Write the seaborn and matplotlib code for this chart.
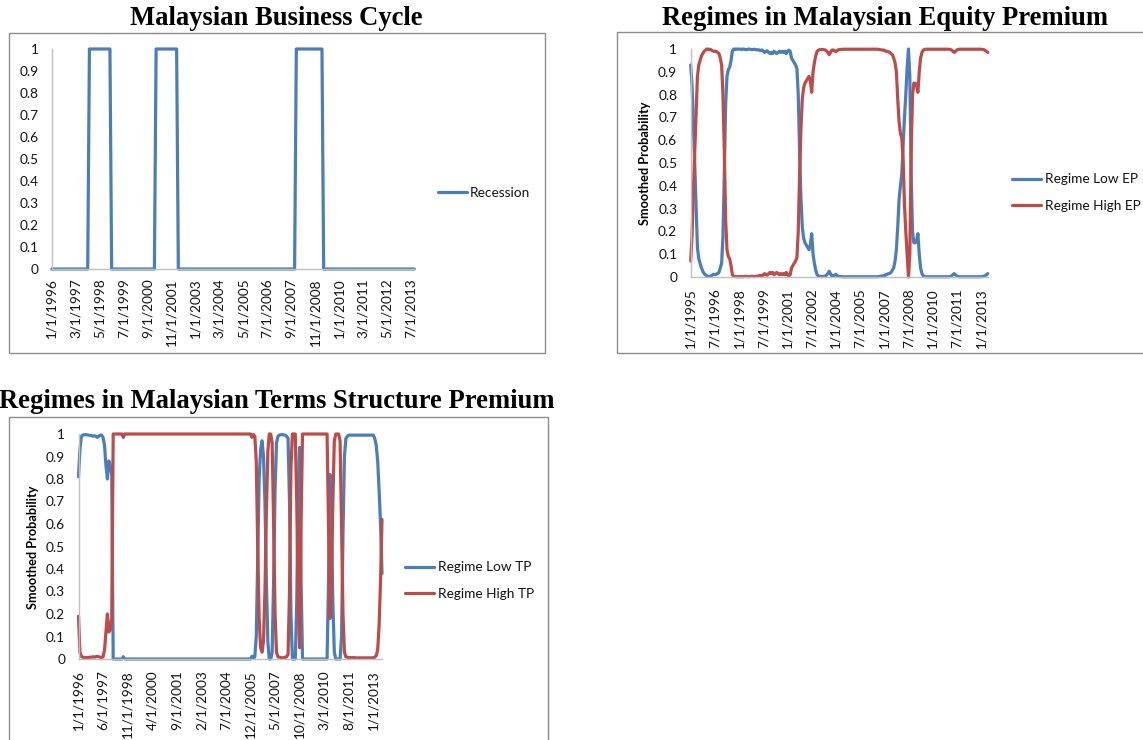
import numpy as np
import pandas as pd
import matplotlib
matplotlib.use("Agg")
import matplotlib.pyplot as plt
import seaborn as sns
from matplotlib.patches import Rectangle
from matplotlib.lines import Line2D

# ---------------- DATA ----------------
# Panel 1: Malaysian business cycle (monthly, Jan 1996 - Sep 2013)
bc_start = "1996-01-01"
bc_n_months = 213
recession_starts = ["1997-11-01", "2001-02-01", "2007-12-01"]
recession_ends = ["1998-11-01", "2002-02-01", "2009-03-01"]
bc_tick_labels = ["1/1/1996", "3/1/1997", "5/1/1998", "7/1/1999", "9/1/2000", "11/1/2001",
                  "1/1/2003", "3/1/2004", "5/1/2005", "7/1/2006", "9/1/2007", "11/1/2008",
                  "1/1/2010", "3/1/2011", "5/1/2012", "7/1/2013"]

# Panel 2: Equity premium regimes (monthly, Jan 1995 - Jun 2013)
ep_start = "1995-01-01"
ep_low = [
    0.93, 0.84, 0.68, 0.50, 0.32, 0.13, 0.08, 0.06, 0.04, 0.025, 0.015, 0.01,
    0.005, 0.003, 0.002, 0.004, 0.008, 0.012, 0.01, 0.012, 0.015, 0.02, 0.04, 0.06,
    0.18, 0.45, 0.76, 0.88, 0.91, 0.92, 0.95, 0.99, 1.0, 0.998, 1.0, 0.999,
    1.0, 0.999, 0.998, 1.0, 0.999, 0.997, 0.998, 1.0, 0.999, 0.998, 0.997, 0.999,
    0.998, 0.996, 0.997, 0.995, 0.993, 0.996, 0.99, 0.985, 0.99, 0.992, 0.985, 0.98,
    0.985, 0.98, 0.99, 0.985, 0.98, 0.985, 0.99, 0.985, 0.99, 0.985, 0.99, 0.98,
    0.99, 0.995, 0.99, 0.96, 0.95, 0.94, 0.93, 0.915, 0.80, 0.55, 0.35, 0.22,
    0.17, 0.15, 0.14, 0.13, 0.12, 0.14, 0.19, 0.10, 0.06, 0.03, 0.01, 0.005,
    0.003, 0.002, 0.002, 0.003, 0.004, 0.008, 0.015, 0.025, 0.015, 0.005, 0.004, 0.008,
    0.012, 0.006, 0.003, 0.002, 0.002, 0.001, 0.001, 0.001, 0.001, 0.001, 0.001, 0.001,
    0.001, 0.001, 0.001, 0.001, 0.001, 0.001, 0.001, 0.001, 0.001, 0.001, 0.001, 0.001,
    0.001, 0.001, 0.001, 0.001, 0.001, 0.001, 0.001, 0.001, 0.002, 0.003, 0.004, 0.005,
    0.005, 0.01, 0.012, 0.014, 0.016, 0.02, 0.03, 0.04, 0.07, 0.12, 0.22, 0.34,
    0.40, 0.45, 0.58, 0.70, 0.80, 0.92, 1.0, 0.88, 0.45, 0.20, 0.15, 0.15,
    0.16, 0.19, 0.10, 0.04, 0.015, 0.005, 0.002, 0.001, 0.001, 0.001, 0.001, 0.001,
    0.001, 0.001, 0.001, 0.001, 0.001, 0.001, 0.001, 0.001, 0.001, 0.001, 0.001, 0.001,
    0.001, 0.002, 0.004, 0.01, 0.015, 0.01, 0.004, 0.002, 0.001, 0.001, 0.001, 0.001,
    0.001, 0.001, 0.001, 0.001, 0.001, 0.001, 0.001, 0.001, 0.001, 0.001, 0.001, 0.001,
    0.001, 0.002, 0.003, 0.006, 0.01, 0.015,
]
ep_high = [
    0.07, 0.18, 0.38, 0.55, 0.72, 0.88, 0.93, 0.95, 0.97, 0.98, 0.99, 0.995,
    1.0, 0.998, 0.999, 0.997, 0.993, 0.99, 0.99, 0.99, 0.985, 0.98, 0.96, 0.93,
    0.80, 0.55, 0.25, 0.12, 0.09, 0.08, 0.05, 0.01, 0.002, 0.002, 0.001, 0.002,
    0.001, 0.002, 0.002, 0.001, 0.002, 0.003, 0.002, 0.001, 0.002, 0.003, 0.003, 0.002,
    0.002, 0.004, 0.003, 0.006, 0.007, 0.004, 0.01, 0.015, 0.01, 0.008, 0.015, 0.02,
    0.015, 0.02, 0.01, 0.015, 0.02, 0.015, 0.01, 0.015, 0.01, 0.015, 0.01, 0.02,
    0.01, 0.005, 0.01, 0.04, 0.05, 0.06, 0.07, 0.085, 0.20, 0.45, 0.65, 0.78,
    0.83, 0.85, 0.86, 0.87, 0.88, 0.86, 0.81, 0.90, 0.94, 0.97, 0.99, 0.995,
    0.997, 0.998, 0.998, 0.997, 0.996, 0.992, 0.985, 0.975, 0.985, 0.995, 0.996, 0.992,
    0.988, 0.994, 0.997, 0.998, 0.998, 0.999, 0.999, 0.999, 0.999, 0.999, 0.999, 0.999,
    0.999, 0.999, 0.999, 0.999, 0.999, 0.999, 0.999, 0.999, 0.999, 0.999, 0.999, 0.999,
    0.999, 0.999, 0.999, 0.999, 0.999, 0.999, 0.999, 0.999, 0.998, 0.997, 0.996, 0.995,
    0.995, 0.99, 0.99, 0.988, 0.985, 0.98, 0.975, 0.96, 0.94, 0.90, 0.78, 0.68,
    0.63, 0.61, 0.52, 0.32, 0.20, 0.10, 0.0, 0.10, 0.55, 0.80, 0.85, 0.85,
    0.84, 0.81, 0.90, 0.96, 0.985, 0.995, 0.998, 0.999, 0.999, 0.999, 0.999, 0.999,
    0.999, 0.999, 0.999, 0.999, 0.999, 0.999, 0.999, 0.999, 0.999, 0.999, 0.999, 0.999,
    0.999, 0.998, 0.996, 0.99, 0.985, 0.99, 0.996, 0.998, 0.999, 0.999, 0.999, 0.999,
    0.999, 0.999, 0.999, 0.999, 0.999, 0.999, 0.999, 0.999, 0.999, 0.999, 0.999, 0.999,
    0.999, 0.998, 0.997, 0.994, 0.99, 0.985,
]
ep_tick_labels = ["1/1/1995", "7/1/1996", "1/1/1998", "7/1/1999", "1/1/2001", "7/1/2002",
                  "1/1/2004", "7/1/2005", "1/1/2007", "7/1/2008", "1/1/2010", "7/1/2011",
                  "1/1/2013"]

# Panel 3: Term structure premium regimes (monthly, Jan 1996 - Jul 2013)
tp_start = "1996-01-01"
tp_low = [
    0.81, 0.93, 0.99, 0.995, 0.997, 0.997, 0.996, 0.995, 0.994, 0.993, 0.99, 0.992,
    0.99, 0.985, 0.99, 0.995, 0.995, 0.985, 0.95, 0.86, 0.80, 0.88, 0.86, 0.82,
    0.0, 0.0, 0.0, 0.0, 0.0, 0.0, 0.0, 0.01, 0.0, 0.0, 0.0, 0.0,
    0.0, 0.0, 0.0, 0.0, 0.0, 0.0, 0.0, 0.0, 0.0, 0.0, 0.0, 0.0,
    0.0, 0.0, 0.0, 0.0, 0.0, 0.0, 0.0, 0.0, 0.0, 0.0, 0.0, 0.0,
    0.0, 0.0, 0.0, 0.0, 0.0, 0.0, 0.0, 0.0, 0.0, 0.0, 0.0, 0.0,
    0.0, 0.0, 0.0, 0.0, 0.0, 0.0, 0.0, 0.0, 0.0, 0.0, 0.0, 0.0,
    0.0, 0.0, 0.0, 0.0, 0.0, 0.0, 0.0, 0.0, 0.0, 0.0, 0.0, 0.0,
    0.0, 0.0, 0.0, 0.0, 0.0, 0.0, 0.0, 0.0, 0.0, 0.0, 0.0, 0.0,
    0.0, 0.0, 0.0, 0.0, 0.0, 0.0, 0.0, 0.0, 0.0, 0.0, 0.0, 0.0,
    0.012, 0.002, 0.01, 0.10, 0.45, 0.80, 0.93, 0.97, 0.90, 0.70, 0.35, 0.08,
    0.0, 0.0, 0.03, 0.35, 0.75, 0.96, 0.99, 0.995, 0.997, 0.997, 0.996, 0.995,
    0.99, 0.98, 0.70, 0.20, 0.0, 0.0, 0.0, 0.25, 0.75, 0.94, 0.35, 0.0,
    0.0, 0.0, 0.0, 0.0, 0.0, 0.0, 0.0, 0.0, 0.0, 0.0, 0.0, 0.0,
    0.0, 0.0, 0.0, 0.0, 0.0, 0.35, 0.82, 0.60, 0.25, 0.03, 0.0, 0.0,
    0.0, 0.0, 0.10, 0.55, 0.90, 0.98, 0.99, 0.995, 0.995, 0.995, 0.995, 0.995,
    0.995, 0.995, 0.995, 0.995, 0.995, 0.995, 0.995, 0.995, 0.995, 0.995, 0.995, 0.995,
    0.995, 0.98, 0.95, 0.88, 0.75, 0.60, 0.38,
]
tp_high = [
    0.19, 0.03, 0.012, 0.008, 0.007, 0.006, 0.006, 0.007, 0.008, 0.008, 0.01, 0.008,
    0.01, 0.012, 0.01, 0.008, 0.006, 0.01, 0.04, 0.12, 0.20, 0.12, 0.13, 0.18,
    1.0, 1.0, 1.0, 1.0, 1.0, 1.0, 1.0, 0.985, 1.0, 1.0, 1.0, 1.0,
    1.0, 1.0, 1.0, 1.0, 1.0, 1.0, 1.0, 1.0, 1.0, 1.0, 1.0, 1.0,
    1.0, 1.0, 1.0, 1.0, 1.0, 1.0, 1.0, 1.0, 1.0, 1.0, 1.0, 1.0,
    1.0, 1.0, 1.0, 1.0, 1.0, 1.0, 1.0, 1.0, 1.0, 1.0, 1.0, 1.0,
    1.0, 1.0, 1.0, 1.0, 1.0, 1.0, 1.0, 1.0, 1.0, 1.0, 1.0, 1.0,
    1.0, 1.0, 1.0, 1.0, 1.0, 1.0, 1.0, 1.0, 1.0, 1.0, 1.0, 1.0,
    1.0, 1.0, 1.0, 1.0, 1.0, 1.0, 1.0, 1.0, 1.0, 1.0, 1.0, 1.0,
    1.0, 1.0, 1.0, 1.0, 1.0, 1.0, 1.0, 1.0, 1.0, 1.0, 1.0, 1.0,
    0.985, 0.998, 0.99, 0.88, 0.50, 0.18, 0.05, 0.03, 0.08, 0.30, 0.65, 0.92,
    1.0, 1.0, 0.96, 0.60, 0.20, 0.03, 0.01, 0.008, 0.006, 0.005, 0.006, 0.008,
    0.01, 0.02, 0.30, 0.85, 1.0, 1.0, 1.0, 0.70, 0.25, 0.05, 0.60, 1.0,
    1.0, 1.0, 1.0, 1.0, 1.0, 1.0, 1.0, 1.0, 1.0, 1.0, 1.0, 1.0,
    1.0, 1.0, 1.0, 1.0, 1.0, 0.60, 0.18, 0.35, 0.70, 0.97, 1.0, 1.0,
    1.0, 0.97, 0.60, 0.20, 0.03, 0.01, 0.008, 0.006, 0.006, 0.006, 0.006, 0.006,
    0.005, 0.005, 0.005, 0.005, 0.005, 0.005, 0.005, 0.005, 0.005, 0.005, 0.005, 0.005,
    0.006, 0.008, 0.015, 0.04, 0.15, 0.35, 0.62,
]
tp_tick_labels = ["1/1/1996", "6/1/1997", "11/1/1998", "4/1/2000", "9/1/2001", "2/1/2003",
                  "7/1/2004", "12/1/2005", "5/1/2007", "10/1/2008", "3/1/2010", "8/1/2011",
                  "1/1/2013"]

y_tick_labels = ["0", "0.1", "0.2", "0.3", "0.4", "0.5", "0.6", "0.7", "0.8", "0.9", "1"]

# ---------------- STYLE ----------------
sns.set_style("white")
plt.rcParams["font.family"] = ["Lato", "DejaVu Sans"]

BLUE = "#4A7EBB"
RED = "#BE4B48"
AXIS = "#BFBFBF"
FRAME = "#8C8C8C"
TXT = "#000000"
FS = 9.8
TITLE_FS = 19.2

W, H = 1143, 740
fig = plt.figure(figsize=(W / 100, H / 100), dpi=100)
fig.patch.set_facecolor("white")


def fx(px):
    return px / W


def fy(py):
    return 1 - py / H


def axes_px(x0, x1, ytop, ybot):
    return fig.add_axes([fx(x0), fy(ybot), (x1 - x0) / W, (ybot - ytop) / H])


def frame_px(x0, y0, x1, y1):
    fig.patches.append(Rectangle((fx(x0), fy(y1)), (x1 - x0) / W, (y1 - y0) / H,
                                 transform=fig.transFigure, fill=False,
                                 edgecolor=FRAME, linewidth=1.0, clip_on=False))


def style_axes(ax, n, step, labels, xpad):
    ax.set_xlim(0, n - 1)
    ax.set_ylim(0, 1)
    ax.set_yticks(np.linspace(0, 1, len(y_tick_labels)))
    ax.set_yticklabels(y_tick_labels)
    ax.set_xticks(list(range(0, n, step))[:len(labels)])
    ax.set_xticklabels(labels, rotation=90)
    ax.tick_params(axis="both", length=0, labelsize=FS, colors="#111111")
    ax.tick_params(axis="y", pad=9.7)
    ax.tick_params(axis="x", pad=xpad)
    for s in ["top", "right"]:
        ax.spines[s].set_visible(False)
    for s in ["left", "bottom"]:
        ax.spines[s].set_color(AXIS)
        ax.spines[s].set_linewidth(1.0)
    ax.set_xlabel("")
    ax.set_ylabel("")
    ax.set_facecolor("white")
    for ln in ax.lines:
        ln.set_clip_on(False)
        ln.set_solid_joinstyle("round")
        ln.set_solid_capstyle("round")


def make_legend(ax, labels, colors, x_px, y_px):
    handles = [Line2D([0], [0], color=c, lw=2.3) for c in colors]
    leg = ax.legend(handles, labels, loc="center left", bbox_to_anchor=(fx(x_px), fy(y_px)),
                    bbox_transform=fig.transFigure, frameon=False, fontsize=FS,
                    handlelength=2.15, handletextpad=0.25, borderpad=0, borderaxespad=0,
                    labelspacing=1.05)
    for t in leg.get_texts():
        t.set_color("#111111")


# ---------------- PANEL 1 ----------------
bc_dates = pd.date_range(bc_start, periods=bc_n_months, freq="MS")
recession = np.zeros(bc_n_months)
for s, e in zip(recession_starts, recession_ends):
    recession[(bc_dates >= pd.Timestamp(s)) & (bc_dates <= pd.Timestamp(e))] = 1.0
df_bc = pd.DataFrame({"idx": np.arange(bc_n_months), "value": recession})

frame_px(8.9, 32.7, 544.6, 352.7)
ax1 = axes_px(51.8, 414.3, 49, 269)
sns.lineplot(data=df_bc, x="idx", y="value", color=BLUE, linewidth=2.3, ax=ax1)
style_axes(ax1, bc_n_months, 14, bc_tick_labels, 6.5)
make_legend(ax1, ["Recession"], [BLUE], 437.5, 193)
fig.text(fx(276), fy(18.5), "Malaysian Business Cycle", ha="center", va="center",
         family="Liberation Serif", fontweight="bold", fontsize=TITLE_FS, color=TXT)

# ---------------- PANEL 2 ----------------
n_ep = len(ep_low)
df_ep = pd.DataFrame({
    "idx": np.concatenate([np.arange(n_ep), np.arange(n_ep)]),
    "value": np.concatenate([ep_low, ep_high]),
    "series": ["Regime Low EP"] * n_ep + ["Regime High EP"] * n_ep,
})
frame_px(616.6, 32.5, 1160, 353)
ax2 = axes_px(690.7, 987.8, 49, 277)
sns.lineplot(data=df_ep, x="idx", y="value", hue="series",
             palette={"Regime Low EP": BLUE, "Regime High EP": RED},
             linewidth=2.3, legend=False, ax=ax2)
style_axes(ax2, n_ep, 18, ep_tick_labels, 8)
make_legend(ax2, ["Regime Low EP", "Regime High EP"], [BLUE, RED], 1012, 192.5)
fig.text(fx(645), fy(163), "Smoothed Probability", rotation=90, ha="center", va="center",
         fontweight="bold", fontsize=9.2, color=TXT)
fig.text(fx(885), fy(18.5), "Regimes in Malaysian Equity Premium", ha="center", va="center",
         family="Liberation Serif", fontweight="bold", fontsize=TITLE_FS, color=TXT)

# ---------------- PANEL 3 ----------------
n_tp = len(tp_low)
df_tp = pd.DataFrame({
    "idx": np.concatenate([np.arange(n_tp), np.arange(n_tp)]),
    "value": np.concatenate([tp_low, tp_high]),
    "series": ["Regime Low TP"] * n_tp + ["Regime High TP"] * n_tp,
})
frame_px(9, 417, 548, 760)
ax3 = axes_px(78.5, 382, 434, 659)
sns.lineplot(data=df_tp, x="idx", y="value", hue="series",
             palette={"Regime Low TP": BLUE, "Regime High TP": RED},
             linewidth=2.3, legend=False, ax=ax3)
style_axes(ax3, n_tp, 17, tp_tick_labels, 8)
make_legend(ax3, ["Regime Low TP", "Regime High TP"], [BLUE, RED], 405, 580.5)
fig.text(fx(33), fy(547), "Smoothed Probability", rotation=90, ha="center", va="center",
         fontweight="bold", fontsize=9.2, color=TXT)
fig.text(fx(277), fy(402), "Regimes in Malaysian Terms Structure Premium", ha="center",
         va="center", family="Liberation Serif", fontweight="bold", fontsize=TITLE_FS,
         color=TXT)

fig.savefig("out.png", dpi=100, facecolor="white")
